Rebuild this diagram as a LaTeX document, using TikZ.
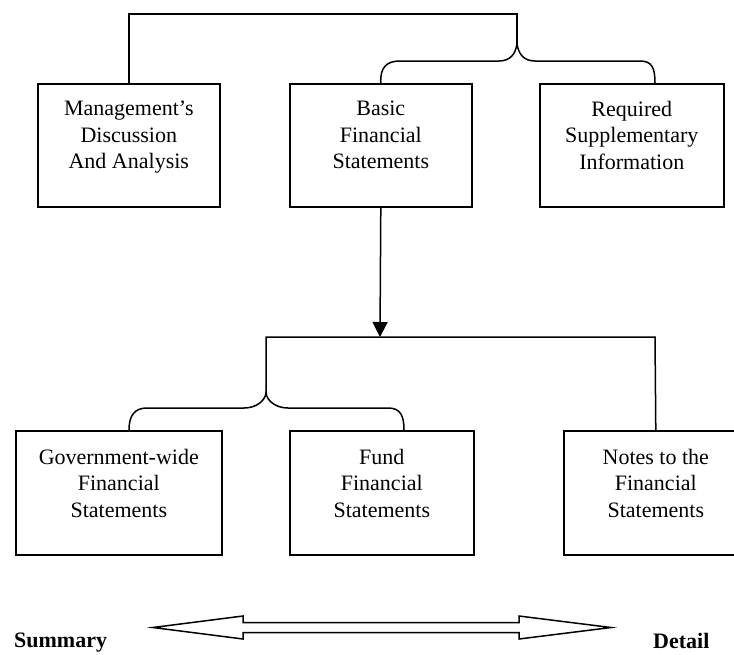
\documentclass[tikz,border=0pt]{standalone}
\usepackage{fontspec}
\setmainfont{Liberation Serif}
\usetikzlibrary{arrows.meta}
\begin{document}
\begin{tikzpicture}[x=1pt,y=-1pt,
  box/.style={draw, line width=1.6pt, rectangle, anchor=north west, inner sep=0pt, minimum height=123pt},
  boxtext/.style={anchor=north, align=center, inner sep=0pt, font=\fontsize{22}{26.5}\selectfont},
  conn/.style={line width=1.5pt},
  lab/.style={inner sep=0pt, anchor=base west, font=\fontsize{22}{26}\selectfont\bfseries},
  dbl/.style={line width=1.5pt, line join=miter}
]
\useasboundingbox (0,0) rectangle (734,654);
\clip (0,0) rectangle (734,654);
\fill[white] (0,0) rectangle (734,654);

% boxes
\node[box, minimum width=182pt] (mda) at (37,83) {};
\node[box, minimum width=182pt] (basic) at (289,83) {};
\node[box, minimum width=184pt] (rsi) at (539,83) {};
\node[box, minimum width=206pt, minimum height=124pt] (gov) at (15,430) {};
\node[box, minimum width=184pt, minimum height=124pt] (fund) at (289,430) {};
\node[box, minimum width=184pt, minimum height=124pt] (notes) at (563,430) {};

% texts
\node[boxtext] (tmda) at ([yshift=-18pt]mda.north) {Management’s\\Discussion\\And Analysis};
\node[boxtext] (tbasic) at ([yshift=-18pt]basic.north) {Basic\\Financial\\Statements};
\node[boxtext] (trsi) at ([yshift=-18pt]rsi.north) {Required\\Supplementary\\Information};
\node[boxtext] (tgov) at ([yshift=-19pt]gov.north) {Government-wide\\Financial\\Statements};
\node[boxtext] (tfund) at ([yshift=-19pt]fund.north) {Fund\\Financial\\Statements};
\node[boxtext] (tnotes) at ([yshift=-19pt]notes.north) {Notes to the\\Financial\\Statements};

% coordinates
\coordinate (topcorner) at (517,14);
\coordinate (topcusp) at (517,43);
\coordinate (rsiend) at (655,83);
\coordinate (split) at (380,337);
\coordinate (lowcusp) at (266,393);
\coordinate (lowcorner) at (266,337);
\coordinate (notescorner) at (655,337);
\coordinate (govin) at (129,430);
\coordinate (fundin) at (404,430);

% top connector
\draw[conn] (mda.north) |- (topcorner) -- (topcusp);
\draw[conn] (basic.north) .. controls (380,68) and (386,61) .. (400,61) -- (499,61)
  .. controls (510,61) and (516,54) .. (topcusp)
  .. controls (518,54) and (524,61) .. (535,61) -- (640,61)
  .. controls (652,61) and (655,68) .. (rsiend);

% arrow down
\draw[conn, -{Triangle[length=15pt,width=15pt]}] (basic.south) -- (split);

% middle connector
\draw[conn] (lowcusp) -- (lowcorner) -- (notescorner) -- (notes.north);
\draw[conn] (govin) .. controls (129,415) and (135,408) .. (147,408) -- (244,408)
  .. controls (256,408) and (265,401) .. (lowcusp)
  .. controls (267,401) and (276,408) .. (288,408) -- (388,408)
  .. controls (400,408) and (404,415) .. (fundin);

% bottom labels
\node[lab] (sum) at (14,647) {Summary};
\node[lab] (det) at (653,648) {Detail};

% double outline arrow
\draw[dbl] (153,627.5) -- (243,616) -- (243,622.5) -- (519,622.5) -- (519,616) -- (611,627.5)
  -- (519,639) -- (519,632.5) -- (243,632.5) -- (243,639) -- cycle;
\end{tikzpicture}
\end{document}
